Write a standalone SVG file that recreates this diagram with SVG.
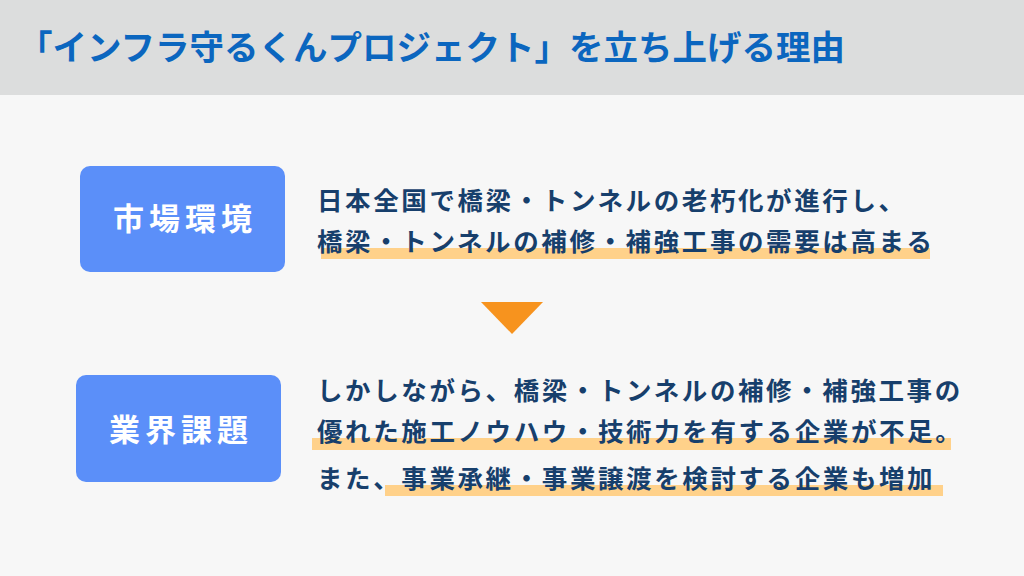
<svg xmlns="http://www.w3.org/2000/svg" width="1024" height="576" viewBox="0 0 1024 576">
<style>
.title{font-family:"Noto Sans CJK JP","Noto Sans CJK SC",sans-serif;font-weight:700;font-size:34.5px;fill:#0b66bf}
.box{fill:#5b8ff9}
.lbl{font-family:"Noto Sans CJK JP",sans-serif;font-weight:700;font-size:31px;fill:#ffffff;letter-spacing:5px}
.body{font-family:"Noto Sans CJK JP",sans-serif;font-weight:700;font-size:25.5px;fill:#173f6c;letter-spacing:2.6px}
.hl{fill:#ffd18a}
</style>
<rect x="0" y="0" width="1024" height="576" fill="#f7f7f7"/>
<rect x="0" y="0" width="1024" height="95" fill="#dcdddd"/>
<text class="title" x="18" y="60">「インフラ守るくんプロジェクト」を立ち上げる理由</text>

<g id="node-market">
<rect class="box" x="80" y="166" width="205" height="106" rx="10"/>
<text class="lbl" x="185" y="230" text-anchor="middle">市場環境</text>
</g>
<g id="text-market">
<rect class="hl" x="321" y="248" width="609" height="11"/>
<text class="body" x="317" y="210">日本全国で橋梁・トンネルの老朽化が進行し、</text>
<text class="body" x="317" y="251">橋梁・トンネルの補修・補強工事の需要は高まる</text>
</g>

<g id="connectors">
<polygon points="481,302 543,302 512,334" fill="#f7931e"/>
</g>

<g id="node-industry">
<rect class="box" x="76" y="375" width="205" height="107" rx="10"/>
<text class="lbl" x="181" y="441" text-anchor="middle">業界課題</text>
</g>
<g id="text-industry">
<rect class="hl" x="312" y="438" width="639" height="12"/>
<rect class="hl" x="385" y="485" width="558" height="11"/>
<text class="body" x="317" y="400">しかしながら、橋梁・トンネルの補修・補強工事の</text>
<text class="body" x="317" y="441">優れた施工ノウハウ・技術力を有する企業が不足。</text>
<text class="body" x="317" y="488">また、事業承継・事業譲渡を検討する企業も増加</text>
</g>
</svg>
